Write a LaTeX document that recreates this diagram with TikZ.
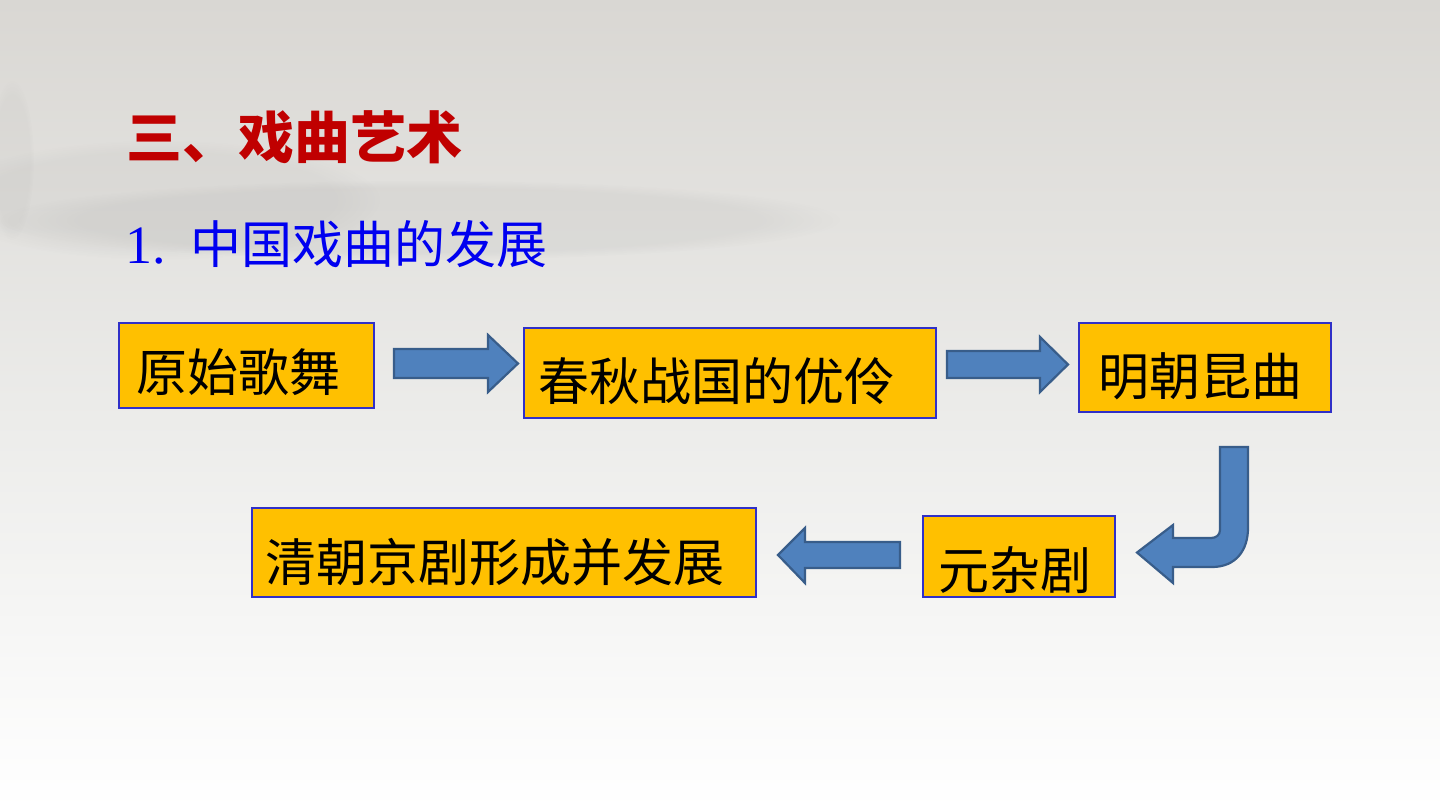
\documentclass[tikz,border=0pt]{standalone}
\usepackage{fontspec}
\usetikzlibrary{fadings}
\newfontfamily\cjk{Noto Sans CJK SC}
\newfontfamily\serifnum{Liberation Serif}
\definecolor{bgtop}{HTML}{D9D7D3}
\definecolor{bgmid}{HTML}{ECECEA}
\definecolor{boxfill}{HTML}{FFC000}
\definecolor{boxline}{HTML}{3030C8}
\definecolor{arrfill}{HTML}{4F81BD}
\definecolor{arrline}{HTML}{385D8A}
\definecolor{titlered}{HTML}{C00000}
\definecolor{subblue}{HTML}{0000F0}
\tikzset{
  stagebox/.style={draw=boxline, line width=0.6pt, fill=boxfill, inner sep=0pt},
  stagetext/.style={anchor=base west, inner sep=0pt, font=\cjk\fontsize{25.5pt}{30pt}\selectfont, text=black},
  blockarrow/.style={draw=arrline, line width=1.1pt, fill=arrfill, line join=miter},
  haze/.style={fill=gray, path fading=circle with fuzzy edge 20 percent},
}
\begin{document}
\begin{tikzpicture}[x=0.5pt, y=-0.5pt]
\useasboundingbox (0,0) rectangle (1440,810);
% background
\shade[top color=bgtop, bottom color=bgmid] (0,0) rectangle (1440,420);
\shade[top color=bgmid, bottom color=white] (0,420) rectangle (1440,810);
\fill[haze, opacity=0.09] (420,220) ellipse (420 and 40);
\fill[haze, opacity=0.07] (160,200) ellipse (220 and 60);
\fill[haze, opacity=0.05] (12,160) ellipse (22 and 80);

% title
\node[anchor=base west, inner sep=0pt, text=titlered, font=\cjk\bfseries\fontsize{28pt}{32pt}\selectfont] (title) at (126,158) {三、戏曲艺术};
\node[anchor=base west, inner sep=0pt, text=subblue, font=\cjk\fontsize{25.5pt}{30pt}\selectfont] (sub) at (125,263) {\makebox[32.5pt][l]{\serifnum\fontsize{27pt}{30pt}\selectfont 1.}中国戏曲的发展};

% boxes
\node[stagebox, minimum width=127.5pt, minimum height=42.5pt] (b1) at (246.5,365.5) {};
\node[stagebox, minimum width=206pt, minimum height=45pt] (b2) at (730,373) {};
\node[stagebox, minimum width=126pt, minimum height=44.5pt] (b3) at (1205,367.5) {};
\node[stagebox, minimum width=96pt, minimum height=40.5pt] (b4) at (1019,556.5) {};
\node[stagebox, minimum width=252pt, minimum height=44.5pt] (b5) at (504,552.5) {};

\node[stagetext] (t1) at (136,391) {原始歌舞};
\node[stagetext] (t2) at (538,400) {春秋战国的优伶};
\node[stagetext] (t3) at (1098,395) {明朝昆曲};
\node[stagetext] (t4) at (938,589) {元杂剧};
\node[stagetext] (t5) at (265,581) {清朝京剧形成并发展};

% block arrows
\draw[blockarrow] (394,349) -- (488,349) -- (488,335) -- (518,363.5) -- (488,392) -- (488,378) -- (394,378) -- cycle;
\draw[blockarrow] (947,351) -- (1040,351) -- (1040,337) -- (1068,364.5) -- (1040,392) -- (1040,378) -- (947,378) -- cycle;
\draw[blockarrow] (900,542) -- (805,542) -- (805,528) -- (778,555) -- (805,583) -- (805,568) -- (900,568) -- cycle;
\draw[blockarrow] (1220,447) -- (1248,447) -- (1248,528)
  .. controls (1248,550) and (1236,567) .. (1212,567)
  -- (1173,567) -- (1173,583) -- (1137,552.5) -- (1173,525) -- (1173,538) -- (1211,538)
  .. controls (1216,538) and (1220,535) .. (1220,530) -- cycle;
\end{tikzpicture}
\end{document}
